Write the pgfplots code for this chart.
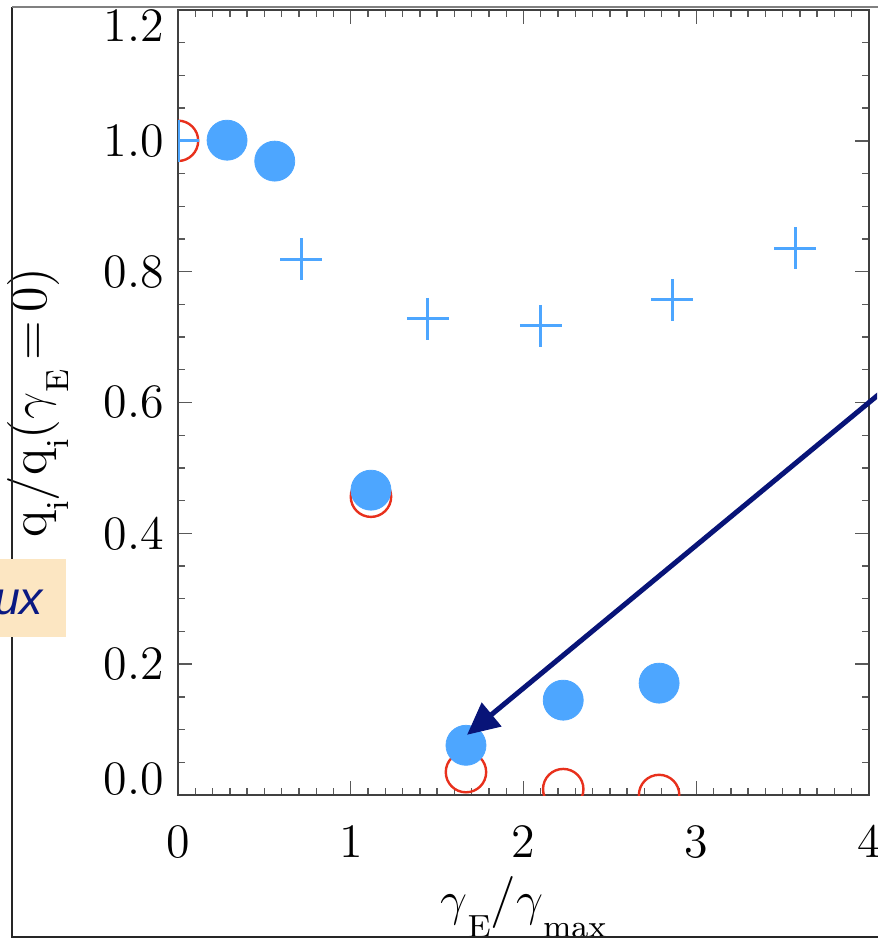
\documentclass[border=0pt]{standalone}
\usepackage{fontspec}
\usepackage{pgfplots}
\pgfplotsset{compat=1.18}
\usetikzlibrary{arrows.meta}
\newfontfamily\fluxfont{Liberation Sans}
\definecolor{ptblue}{RGB}{77,166,255}
\definecolor{ptred}{RGB}{232,48,28}
\definecolor{arrownavy}{RGB}{8,20,120}
\definecolor{boxfill}{RGB}{252,230,194}
\definecolor{textnavy}{RGB}{10,25,130}
\newcommand{\sub}[1]{\lower 5.5pt\hbox{\fontsize{8}{9}\selectfont #1}}
\begin{document}
\begin{tikzpicture}
\useasboundingbox (0,0) rectangle (219.25pt,-235pt);
\begin{scope}
\clip (0,0) rectangle (219.25pt,-234.25pt);
\begin{axis}[
  at={(44.5pt,-198.75pt)}, anchor=south west,
  width=172.75pt, height=196.25pt, scale only axis,
  xmin=0, xmax=4, ymin=0, ymax=1.2,
  xtick={0,1,2,3,4},
  ytick={0,0.2,0.4,0.6,0.8,1.0,1.2},
  yticklabels={{\raisebox{3.9pt}[\height][\depth]{0.0}},0.2,0.4,0.6,0.8,1.0,{\raisebox{-3.9pt}[\height][\depth]{1.2}}},
  minor x tick num=9, minor y tick num=3,
  major tick length=3.5pt, minor tick length=1.75pt,
  tick align=inside,
  axis line style={black!75, line width=0.4pt},
  tick style={black!65, line width=0.35pt},
  ticklabel style={font=\fontsize{12}{14}\selectfont},
  xticklabel style={yshift=-4.25pt},
  clip marker paths=true,
  xlabel={{\fontsize{13}{15}\selectfont $\gamma$\sub{E}/$\gamma$\sub{max}}},
  ylabel={{\fontsize{13}{15}\selectfont q\sub{i}/q\sub{i}($\gamma$\sub{E}\,=\,0)}},
  xlabel style={at={(axis description cs:0.5,-0.153)}, anchor=base},
  ylabel style={at={(axis description cs:-0.19,0.5)}, anchor=base},
]
\addplot[only marks, mark=o, mark size=5.05pt, mark options={ptred, line width=0.6pt}]
  coordinates {(0,1.0) (1.117,0.456) (1.667,0.035) (2.23,0.009) (2.785,0.0)};
\addplot[only marks, mark=+, mark size=5.25pt, mark options={ptblue, line width=0.75pt}]
  coordinates {(0,1.0) (0.712,0.819) (1.447,0.728) (2.101,0.717) (2.86,0.757) (3.572,0.836)};
\addplot[only marks, mark=*, mark size=5pt, mark options={ptblue, fill=ptblue, line width=0.2pt}]
  coordinates {(0.284,1.001) (0.56,0.969) (1.117,0.466) (1.667,0.076) (2.23,0.145) (2.785,0.171)};
\coordinate (tipA) at (axis cs:1.673,0.092);
\coordinate (startA) at (axis cs:4.2,0.6437);
\end{axis}
\draw[arrownavy, line width=1.25pt, -{Triangle[length=8pt,width=7.5pt]}] (startA) -- (tipA);
\end{scope}
\draw[black!85, line width=0.4pt] (3pt,-1.75pt) -- (3pt,-234.25pt) -- (230pt,-234.25pt);
\draw[black!50, line width=0.55pt] (3pt,-1.75pt) -- (230pt,-1.75pt);
\fill[boxfill] (-20pt,-139.75pt) rectangle (16.5pt,-159.25pt);
\node[anchor=base east, inner sep=0pt, text=textnavy, font=\fluxfont\itshape\fontsize{11.6}{13}\selectfont] at (11pt,-153.5pt) {Flux};
\end{tikzpicture}
\end{document}
